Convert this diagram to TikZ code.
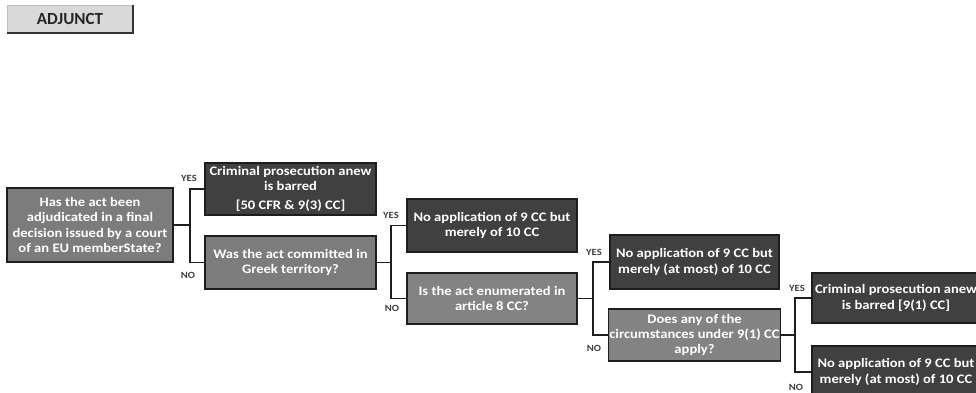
\documentclass[tikz,border=0pt]{standalone}
\usepackage{fontspec}
\setmainfont{Carlito}
\newfontfamily\widefont[FakeStretch=1.12]{Carlito}
\definecolor{darkbox}{HTML}{404040}
\definecolor{midbox}{HTML}{7C7C7C}
\definecolor{litbox}{HTML}{838383}
\definecolor{edge}{HTML}{1E1E1E}
\definecolor{lbl}{HTML}{404040}
\tikzset{
  box/.style={draw=edge, line width=1.7pt, text=white, font=\widefont\bfseries\fontsize{13}{15.2}\selectfont, align=center, inner sep=1pt},
  dbox/.style={box, fill=darkbox},
  mbox/.style={box, fill=midbox},
  lbox/.style={box, fill=litbox},
  conn/.style={draw=edge, line width=1.7pt},
  yn/.style={text=lbl, font=\widefont\bfseries\fontsize{9.5}{10}\selectfont, inner sep=0pt}
}
\begin{document}
\begin{tikzpicture}[x=1pt,y=-1pt]
\useasboundingbox (0,0) rectangle (976,393);
\clip (0,0) rectangle (976,393);
\fill[white] (0,0) rectangle (976,393);
% ADJUNCT
\node[draw=gray!50, fill=black!15, minimum width=126pt, minimum height=28pt, inner sep=0pt, font=\bfseries\fontsize{17}{19}\selectfont, text=black!85] (adj) at (70,19) {ADJUNCT};
\draw[line width=1.8pt, black!80] (adj.north east) -- (adj.south east) -- (adj.south west);
% boxes
\node[mbox, minimum width=166pt, minimum height=74pt] (b1) at (90,225) {Has the act been\\adjudicated in a final\\decision issued by a court\\of an EU memberState?};
\node[dbox, minimum width=171pt, minimum height=52pt] (b2) at (290.5,189) {Criminal prosecution anew\\is barred\\[4pt][50 CFR \& 9(3) CC]};
\node[mbox, minimum width=171pt, minimum height=53pt] (b3) at (290.5,262.5) {Was the act committed in\\Greek territory?};
\node[dbox, minimum width=170pt, minimum height=53pt] (b4) at (492,225.5) {No application of 9 CC but\\merely of 10 CC};
\node[lbox, minimum width=170pt, minimum height=51pt] (b5) at (492,298.5) {Is the act enumerated in\\article 8 CC?};
\node[dbox, minimum width=169pt, minimum height=54pt] (b6) at (694.5,262) {No application of 9 CC but\\merely (at most) of 10 CC};
\node[lbox, minimum width=169pt, minimum height=52pt] (b7) at (694.5,335) {Does any of the\\circumstances under 9(1) CC\\apply?};
\node[dbox, minimum width=168pt, minimum height=50pt] (b8) at (896,298) {Criminal prosecution anew\\is barred [9(1) CC]};
\node[dbox, minimum width=168pt, minimum height=52pt] (b9) at (896,372) {No application of 9 CC but\\merely (at most) of 10 CC};
% junctions
\coordinate (j1) at (190,225);
\coordinate (j2) at (391,262.5);
\coordinate (j3) at (593,298.5);
\coordinate (j4) at (795,335);
\draw[conn] (b1.east) -- (j1) |- (b2.west);
\draw[conn] (j1) |- (b3.west);
\draw[conn] (b3.east) -- (j2) |- (b4.west);
\draw[conn] (j2) |- (b5.west);
\draw[conn] (b5.east) -- (j3) |- (b6.west);
\draw[conn] (j3) |- (b7.west);
\draw[conn] (b7.east) -- (j4) |- (b8.west);
\draw[conn] (j4) |- (b9.west);
% labels
\node[yn] (y1) at (189,178) {YES};
\node[yn] (n1) at (188,275) {NO};
\node[yn] (y2) at (391,215) {YES};
\node[yn] (n2) at (392,308) {NO};
\node[yn] (y3) at (594,252) {YES};
\node[yn] (n3) at (594,348) {NO};
\node[yn] (y4) at (797,288) {YES};
\node[yn] (n4) at (796,387) {NO};
\end{tikzpicture}
\end{document}
